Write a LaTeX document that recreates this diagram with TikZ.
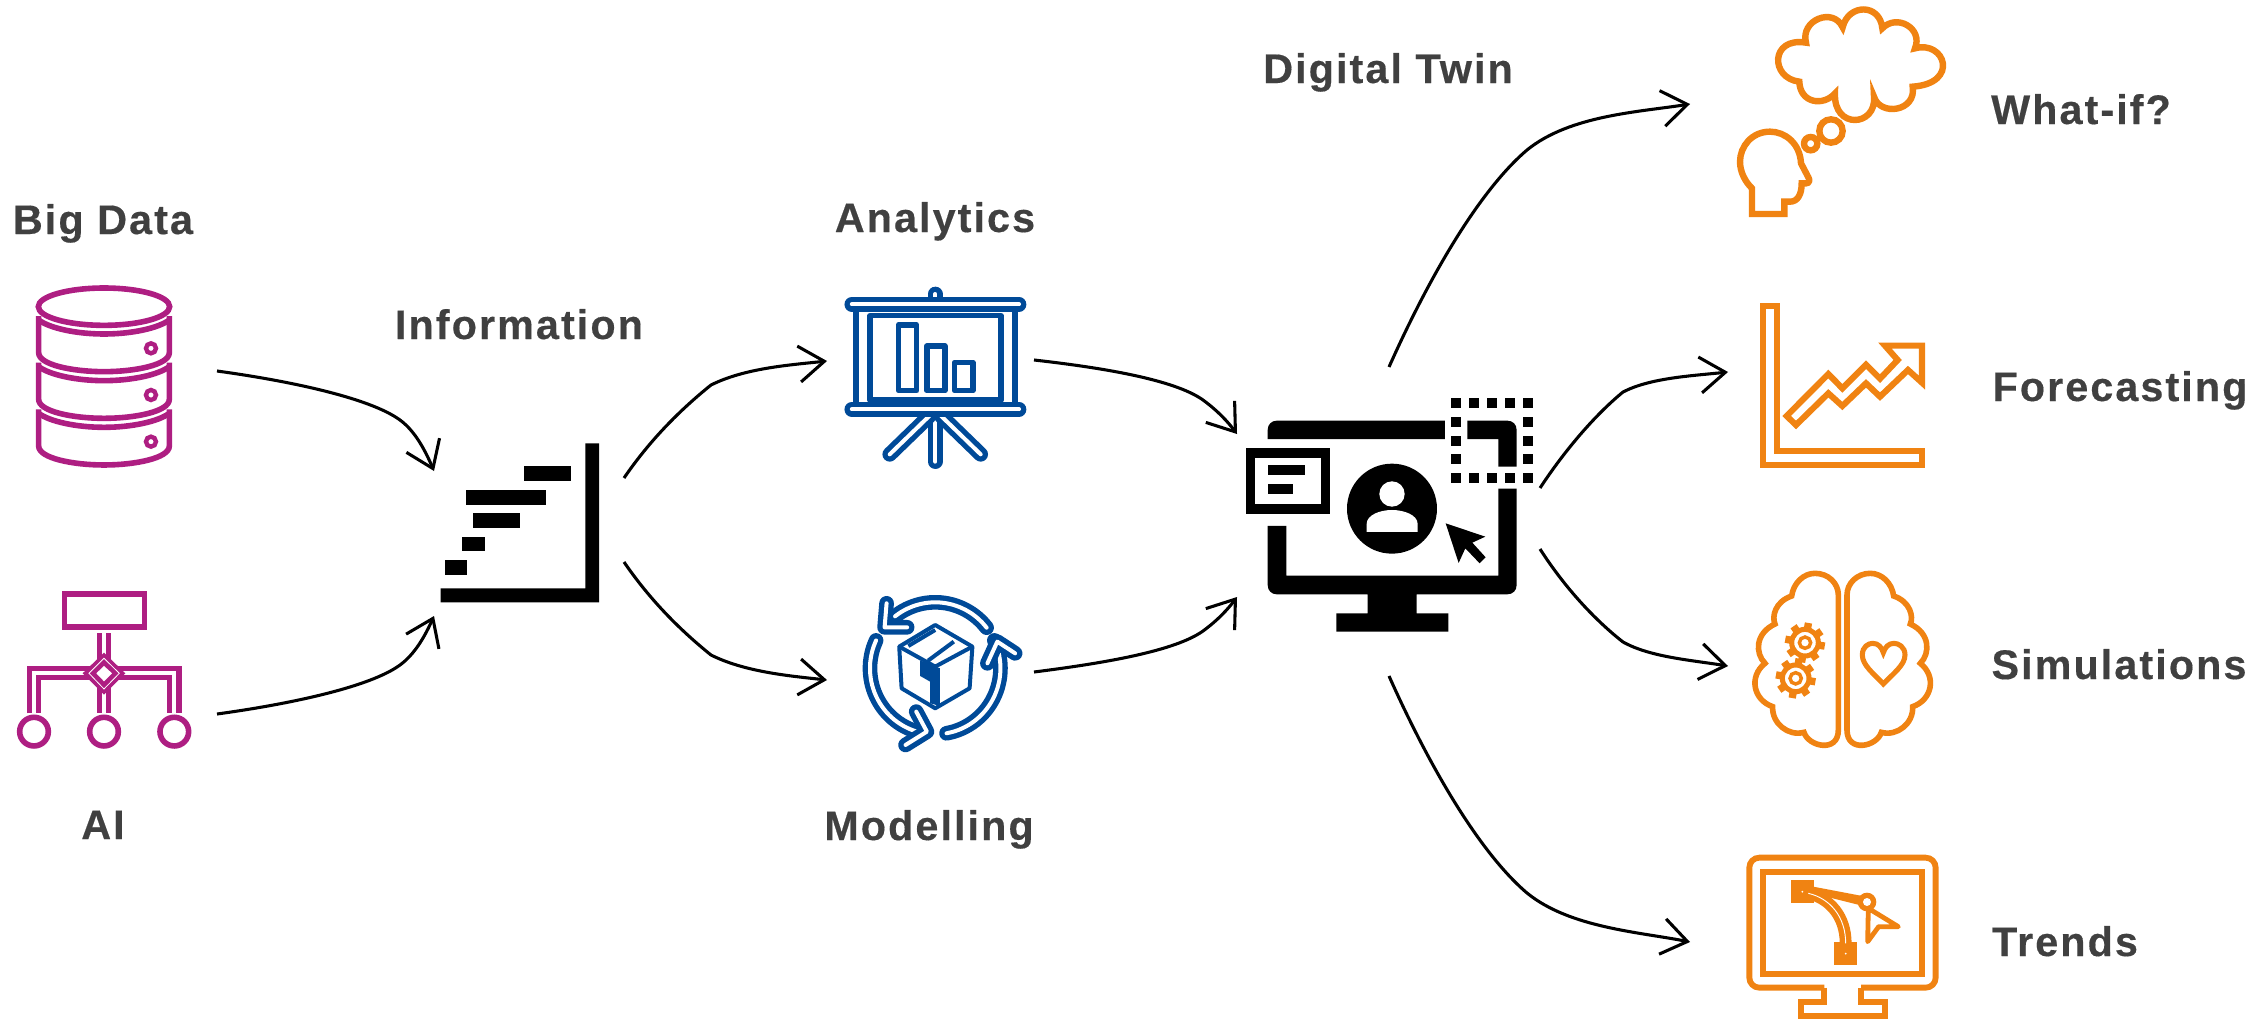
\documentclass[tikz,border=0pt]{standalone}
\usepackage{fontspec}
\setmainfont{Liberation Sans}[LetterSpace=5,BoldFeatures={FakeBold=0.35}]
\usetikzlibrary{arrows.meta}

\definecolor{dataPurple}{RGB}{174,30,130}
\definecolor{modelBlue}{RGB}{0,74,152}
\definecolor{twinOrange}{RGB}{240,131,18}
\definecolor{labelGrey}{RGB}{64,64,64}

\tikzset{
  every picture/.style={line width=0.75pt},
  label/.style={anchor=base,inner sep=0pt,text=labelGrey,font=\fontsize{31pt}{36pt}\selectfont\bfseries},
  flow/.style={draw=black,line width=2.3pt,-{Straight Barb[length=19pt,width=27pt,line width=2.3pt]}},
  purpleline/.style={draw=dataPurple,line width=4.2pt},
  blueline/.style={draw=modelBlue,line width=4.2pt,line join=round},
  orangeline/.style={draw=twinOrange,line width=4.8pt},
  hollow/.style={line width=4pt,double=white,double distance=3pt,line cap=round,line join=round},
}

\begin{document}
\begin{tikzpicture}[x=0.75pt,y=0.75pt,yscale=-1,xscale=1]
\useasboundingbox (0,0) rectangle (2266,1018);

% Big Data
\begin{scope}[shift={(0,260)},scale=0.3333]
\draw[purpleline] (312,140) ellipse [x radius=197,y radius=56];
\foreach \dy in {0,140,280}{
  \draw[purpleline] (116,{168+\dy}) -- (116,{278+\dy}) .. controls (116,{315+\dy}) and (220,{335+\dy}) .. (312,{335+\dy}) .. controls (404,{335+\dy}) and (508,{315+\dy}) .. (508,{278+\dy}) -- (508,{168+\dy});
  \draw[purpleline] (116,{180+\dy}) .. controls (150,{205+\dy}) and (230,{222+\dy}) .. (312,{222+\dy}) .. controls (394,{222+\dy}) and (474,{205+\dy}) .. (508,{180+\dy});
  \draw[purpleline,line width=3.3pt] (453,{265+\dy}) circle [radius=15];
}
\end{scope}

% AI
\begin{scope}[shift={(0,260)},scale=0.3333]
\draw[purpleline] (193,1002) rectangle (433,1101);
\draw[hollow,draw=dataPurple,line cap=butt,line join=miter] (102,1360) -- (102,1239) -- (523,1239) -- (523,1360);
\draw[hollow,draw=dataPurple,line cap=butt] (312,1120) -- (312,1360);
\fill[dataPurple] (312,1178) -- (376,1240) -- (312,1304) -- (248,1240) -- cycle;
\draw[white,line width=0.6pt] (312,1195) -- (358,1240) -- (312,1287) -- (267,1240) -- cycle;
\fill[white] (312,1218) -- (336,1240) -- (312,1264) -- (289,1240) -- cycle;
\foreach \cx in {102,312,523}{
  \draw[purpleline] (\cx,1415) circle [radius=43];
}
\end{scope}

% Information
\begin{scope}[shift={(420,270)},xscale=0.3954,yscale=0.3333]
\fill[black] (52,997) -- (52,955) -- (418,955) -- (418,520) -- (453,520) -- (453,997) -- cycle;
\fill[black] (263,588) rectangle (382,633);
\fill[black] (116,660) rectangle (319,705);
\fill[black] (134,729) rectangle (253,774);
\fill[black] (105,801) rectangle (164,843);
\fill[black] (63,870) rectangle (119,915);
\end{scope}

% Analytics
\begin{scope}[shift={(420,270)},xscale=0.3954,yscale=0.3333]
\draw[blueline] (1103,115) -- (1103,405);
\draw[blueline] (1505,115) -- (1505,405);
\draw[blueline] (1138,137) rectangle (1469,390);
\draw[blueline] (1210,165) rectangle (1256,362);
\draw[blueline] (1282,228) rectangle (1327,362);
\draw[blueline] (1352,277) rectangle (1398,362);
\draw[hollow,draw=modelBlue] (1303,432) -- (1303,575);
\draw[hollow,draw=modelBlue] (1288,438) -- (1188,553);
\draw[hollow,draw=modelBlue] (1318,438) -- (1418,553);
\draw[hollow,draw=modelBlue] (1303,72) -- (1303,100);
\draw[hollow,draw=modelBlue] (1092,103) -- (1515,103);
\draw[hollow,draw=modelBlue] (1092,418) -- (1515,418);
\end{scope}

% Modelling
\begin{scope}[shift={(420,270)},xscale=0.3954,yscale=0.3333]
\draw[hollow,draw=modelBlue] plot[smooth,samples=16,domain=322:232] ({1303+165*cos(\x)},{1195+198*sin(\x)});
\draw[hollow,draw=modelBlue] (1180,1000) -- (1175,1072) -- (1232,1072);
\draw[hollow,draw=modelBlue] plot[smooth,samples=16,domain=80:-25] ({1303+165*cos(\x)},{1195+198*sin(\x)});
\draw[hollow,draw=modelBlue] (1435,1180) -- (1460,1115) -- (1505,1150);
\draw[hollow,draw=modelBlue] plot[smooth,samples=16,domain=205:105] ({1303+165*cos(\x)},{1195+198*sin(\x)});
\draw[hollow,draw=modelBlue] (1228,1425) -- (1282,1385) -- (1255,1325);
% box
\draw[blueline,line width=3pt] (1303,1065) -- (1397,1130) -- (1390,1255) -- (1303,1315) -- (1218,1255) -- (1212,1130) -- cycle;
\draw[blueline,line width=3pt] (1212,1130) -- (1303,1190) -- (1397,1130);
\draw[blueline,line width=3pt] (1235,1128) -- (1303,1080);
\draw[blueline,line width=3pt] (1285,1172) -- (1350,1115);
\fill[modelBlue] (1265,1172) -- (1315,1195) -- (1315,1308) -- (1290,1300) -- (1290,1235) -- (1265,1218) -- cycle;
\end{scope}

% Digital Twin
\begin{scope}[shift={(1230,370)},scale=0.3333]
\fill[black] (113,207) -- (113,180) .. controls (113,163) and (125,152) .. (140,152) -- (645,152) -- (645,207) -- cycle;
\fill[black] (712,152) -- (832,152) .. controls (848,152) and (860,163) .. (860,180) -- (860,290) -- (805,290) -- (805,207) -- (712,207) -- cycle;
\fill[black] (805,356) -- (860,356) -- (860,645) .. controls (860,662) and (848,673) .. (832,673) -- (560,673) -- (560,730) -- (655,730) -- (655,785) -- (319,785) -- (319,730) -- (413,730) -- (413,673) -- (140,673) .. controls (125,673) and (113,662) .. (113,645) -- (113,468) -- (169,468) -- (169,617) -- (805,617) -- cycle;
\foreach \sx in {678,732,786,840,894}{
  \fill[black] ({\sx-15},84) rectangle ({\sx+15},114);
  \fill[black] ({\sx-15},308) rectangle ({\sx+15},338);
}
\foreach \sy in {155,212,267}{
  \fill[black] (663,{\sy-15}) rectangle (693,{\sy+15});
  \fill[black] (879,{\sy-15}) rectangle (909,{\sy+15});
}
\draw[black,line width=7pt] (62,249) rectangle (286,417);
\fill[black] (113,286) rectangle (225,314);
\fill[black] (113,342) rectangle (189,372);
\fill[black] (486,416) circle [radius=135];
\fill[white] (486,372) circle [radius=38];
\fill[white] (410,486) -- (410,462) .. controls (410,435) and (450,420) .. (486,420) .. controls (522,420) and (563,435) .. (563,462) -- (563,486) -- cycle;
\fill[black] (647,460) -- (766,500) -- (727,518) -- (767,562) -- (749,580) -- (706,535) -- (686,579) -- cycle;
\end{scope}

% What-if
\begin{scope}[shift={(1720,0)},scale=0.3333]
\draw[orangeline,line join=miter] (258,128) .. controls (240,60) and (340,20) .. (368,82) .. controls (385,10) and (480,10) .. (487,85) .. controls (530,40) and (610,85) .. (585,145) .. controls (675,120) and (720,250) .. (578,260) .. controls (590,335) and (480,350) .. (462,290) .. controls (470,380) and (340,390) .. (345,280) .. controls (310,320) and (240,310) .. (238,245) .. controls (150,235) and (150,110) .. (258,128) -- cycle;
\draw[orangeline] (96,642) -- (193,642) -- (193,605) -- (210,605) .. controls (232,605) and (245,585) .. (245,550) -- (258,550) .. controls (268,550) and (270,540) .. (265,532) -- (243,490) .. controls (240,430) and (195,395) .. (150,395) .. controls (95,395) and (60,440) .. (60,485) .. controls (60,515) and (75,545) .. (96,565) -- cycle;
\draw[orangeline] (333,393) circle [radius=35];
\draw[orangeline] (272,431) circle [radius=20];
\end{scope}

% Forecasting
\begin{scope}[shift={(1740,290)},scale=0.3333]
\draw[orangeline,line width=4.6pt] (70,48) -- (112,48) -- (112,482) -- (546,482) -- (546,525) -- (70,525) -- cycle;
\draw[orangeline,line width=4.6pt] (140,378) -- (265,252) -- (307,295) -- (378,224) -- (420,266) -- (473,210) -- (435,167) -- (546,167) -- (546,278) -- (504,240) -- (420,320) -- (378,280) -- (307,348) -- (265,310) -- (168,405) -- cycle;
\end{scope}

% Simulations
\begin{scope}[shift={(1740,560)},scale=0.3333]
\foreach \sgn/\off in {1/0,-1/616}{
  \draw[orangeline,line width=4.2pt] ({\off+\sgn*295},510) -- ({\off+\sgn*295},105) .. controls ({\off+\sgn*295},70) and ({\off+\sgn*265},40) .. ({\off+\sgn*225},40) .. controls ({\off+\sgn*190},40) and ({\off+\sgn*160},70) .. ({\off+\sgn*155},108) .. controls ({\off+\sgn*105},125) and ({\off+\sgn*95},170) .. ({\off+\sgn*105},192) .. controls ({\off+\sgn*45},220) and ({\off+\sgn*45},280) .. ({\off+\sgn*75},310) .. controls ({\off+\sgn*25},350) and ({\off+\sgn*40},420) .. ({\off+\sgn*98},440) .. controls ({\off+\sgn*95},490) and ({\off+\sgn*145},530) .. ({\off+\sgn*192},517) .. controls ({\off+\sgn*205},560) and ({\off+\sgn*295},580) .. ({\off+\sgn*295},510) -- cycle;
}
\foreach \gx/\gy in {195/248,167/355}{
  \draw[orangeline,line width=3.8pt] (\gx,\gy) circle [radius=40];
  \draw[orangeline,line width=2.6pt] (\gx,\gy) circle [radius=17];
  \foreach \a in {0,45,...,315}{
    \draw[orangeline,line width=5.5pt] ({\gx+42*cos(\a+10)},{\gy+42*sin(\a+10)}) -- ({\gx+60*cos(\a+10)},{\gy+60*sin(\a+10)});
  }
}
\draw[orangeline,line width=3.8pt,line join=miter] (430,372) .. controls (400,340) and (367,315) .. (367,285) .. controls (367,260) and (385,250) .. (398,250) .. controls (415,250) and (425,262) .. (430,278) .. controls (435,262) and (445,250) .. (462,250) .. controls (475,250) and (495,260) .. (495,285) .. controls (495,315) and (460,340) .. (430,372) -- cycle;
\end{scope}

% Trends
\begin{scope}[shift={(1730,840)},scale=0.3333]
\draw[orangeline,line width=4.4pt,rounded corners=7.5pt] (283,443) -- (58,443) -- (58,53) -- (617,53) -- (617,443) -- (393,443);
\draw[orangeline,line width=4.4pt] (283,443) -- (283,487) -- (212,487) -- (212,527) -- (465,527) -- (465,487) -- (393,487) -- (393,443);
\draw[orangeline,line width=4.4pt] (100,95) rectangle (576,403);
\fill[twinOrange] (182,120) rectangle (252,190);
\fill[twinOrange] (312,306) rectangle (382,376);
\draw[twinOrange,line width=4.1pt,double=white,double distance=0.7pt] (235,160) .. controls (300,175) and (347,230) .. (347,310);
\fill[white] (217,155) circle [radius=3];
\fill[white] (347,341) circle [radius=3];
\fill[twinOrange] (250,140) -- (392,167) -- (388,195) -- (240,158) -- cycle;
\fill[twinOrange] (411,186) circle [radius=28];
\fill[white] (411,186) circle [radius=12];
\draw[orangeline,line width=3.6pt,line join=round] (415,205) -- (505,260) -- (446,260) -- (413,305) -- cycle;
\end{scope}

% end points of the connectors
\coordinate (dataOut) at (217,371);
\coordinate (aiOut) at (217,714);
\coordinate (infoInTop) at (434,471);
\coordinate (infoInBottom) at (434,616);
\coordinate (infoOutTop) at (624,478);
\coordinate (infoOutBottom) at (624,562);
\coordinate (analyticsIn) at (827,361);
\coordinate (modellingIn) at (827,680);
\coordinate (analyticsOut) at (1034,360);
\coordinate (modellingOut) at (1034,672);
\coordinate (twinInTop) at (1237,434);
\coordinate (twinInBottom) at (1237,597);
\coordinate (twinOutA) at (1389,367);
\coordinate (twinOutB) at (1540,488);
\coordinate (twinOutC) at (1540,549);
\coordinate (twinOutD) at (1389,676);
\coordinate (whatIn) at (1690,104);
\coordinate (forecastIn) at (1728,372);
\coordinate (simIn) at (1728,666);
\coordinate (trendIn) at (1690,942);

\draw[flow] (dataOut) .. controls (290,381) and (370,398) .. (400,420) .. controls (415,431) and (425,450) .. (infoInTop);
\draw[flow] (aiOut) .. controls (290,704) and (370,687) .. (400,665) .. controls (415,654) and (425,636) .. (infoInBottom);
\draw[flow] (infoOutTop) .. controls (650,440) and (680,410) .. (711,385) .. controls (745,368) and (790,365) .. (analyticsIn);
\draw[flow] (infoOutBottom) .. controls (650,600) and (680,630) .. (711,655) .. controls (745,672) and (790,676) .. (modellingIn);
\draw[flow] (analyticsOut) .. controls (1105,368) and (1175,380) .. (1203,400) .. controls (1218,411) and (1228,422) .. (twinInTop);
\draw[flow] (modellingOut) .. controls (1105,663) and (1175,651) .. (1203,631) .. controls (1218,620) and (1228,609) .. (twinInBottom);
\draw[flow] (twinOutA) .. controls (1430,275) and (1480,190) .. (1527,150) .. controls (1570,115) and (1640,112) .. (whatIn);
\draw[flow] (twinOutB) .. controls (1565,450) and (1595,415) .. (1623,392) .. controls (1650,378) and (1690,376) .. (forecastIn);
\draw[flow] (twinOutC) .. controls (1565,588) and (1595,620) .. (1623,642) .. controls (1650,657) and (1690,660) .. (simIn);
\draw[flow] (twinOutD) .. controls (1430,768) and (1480,853) .. (1527,893) .. controls (1570,928) and (1640,932) .. (trendIn);

% Text Node
\node[label] (bigData) at (103,234) {Big Data};
\node[label] (aiLabel) at (103,839) {AI};
\node[label] (information) at (519,339) {Information};
\node[label] (analytics) at (935,232) {Analytics};
\node[label] (modelling) at (929,840) {Modelling};
\node[label] (digitalTwin) at (1388,83) {Digital Twin};
\node[label] (whatIf) at (2081,124) {What-if?};
\node[label] (forecasting) at (2120,401) {Forecasting};
\node[label] (simulations) at (2119,679) {Simulations};
\node[label] (trends) at (2065,956) {Trends};
\end{tikzpicture}
\end{document}
